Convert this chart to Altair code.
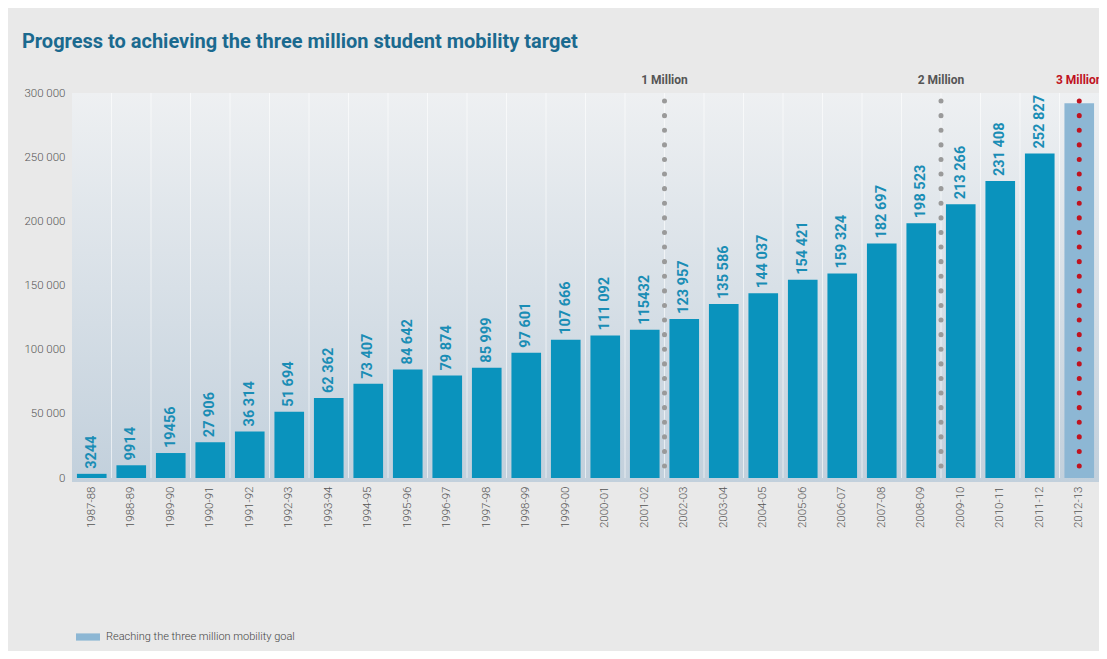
import altair as alt
import pandas as pd

# ---- data ----
seasons = ["1987-88", "1988-89", "1989-90", "1990-91", "1991-92", "1992-93", "1993-94",
           "1994-95", "1995-96", "1996-97", "1997-98", "1998-99", "1999-00", "2000-01",
           "2001-02", "2002-03", "2003-04", "2004-05", "2005-06", "2006-07", "2007-08",
           "2008-09", "2009-10", "2010-11", "2011-12", "2012-13"]
students = [3244, 9914, 19456, 27906, 36314, 51694, 62362, 73407, 84642, 79874, 85999,
            97601, 107666, 111092, 115432, 123957, 135586, 144037, 154421, 159324, 182697,
            198523, 213266, 231408, 252827, 292000]
value_labels = ["3244", "9914", "19456", "27 906", "36 314", "51 694", "62 362", "73 407",
                "84 642", "79 874", "85 999", "97 601", "107 666", "111 092", "115432",
                "123 957", "135 586", "144 037", "154 421", "159 324", "182 697", "198 523",
                "213 266", "231 408", "252 827", ""]
bar_types = ["Students"] * 25 + ["Reaching the three million mobility goal"]

milestone_names = ["1 Million", "2 Million", "3 Million"]
milestone_pos = [15, 22, 25.5]          # in category-step units (gap / bar centre)
milestone_kind = ["grey", "grey", "red"]

W, H = 1027, 385
N = len(seasons)

df = pd.DataFrame({"season": seasons, "students": students, "label": value_labels,
                   "type": bar_types})
ms = pd.DataFrame({"name": milestone_names, "pos": milestone_pos, "kind": milestone_kind})
gaps = pd.DataFrame({"pos": list(range(1, N))})

band = alt.Scale(paddingInner=0.25, paddingOuter=0.125)
yscale = alt.Scale(domain=[0, 300000], nice=False)
qx = alt.Scale(domain=[0, N], nice=False, zero=False)

bg = alt.Chart(pd.DataFrame({"a": [0]})).mark_rect(
    color=alt.Gradient(gradient="linear", x1=0, y1=0, x2=0, y2=1,
                       stops=[alt.GradientStop(color="#eef0f2", offset=0),
                              alt.GradientStop(color="#c2d0dc", offset=1)])
).encode(x=alt.value(0), x2=alt.value(W), y=alt.value(0), y2=alt.value(H + 4))

gridlines = alt.Chart(gaps).mark_rule(color="white", strokeWidth=1, opacity=0.6).encode(
    x=alt.X("pos:Q", scale=qx, axis=None), y=alt.value(0), y2=alt.value(H))

bars = alt.Chart(df).mark_bar().encode(
    x=alt.X("season:N", sort=seasons, scale=band, title=None,
            axis=alt.Axis(labelAngle=270, labelFontSize=11.5, labelColor="#555555",
                          labelFont="Roboto", labelFontWeight=300, ticks=False,
                          domain=False, grid=False, labelPadding=8)),
    y=alt.Y("students:Q", scale=yscale, title=None,
            axis=alt.Axis(values=[0, 50000, 100000, 150000, 200000, 250000, 300000],
                          labelExpr="replace(format(datum.value, ','), ',', ' ')",
                          labelFontSize=11.5, labelColor="#555555", labelFont="Roboto",
                          labelFontWeight=300, ticks=False, domain=False,
                          gridColor="white", gridOpacity=0.8, labelPadding=7)),
    color=alt.Color("type:N",
                    scale=alt.Scale(domain=["Students", "Reaching the three million mobility goal"],
                                    range=["#0a93bd", "#8db7d4"]),
                    legend=alt.Legend(values=["Reaching the three million mobility goal"],
                                      title=None, orient="none", legendX=4, legendY=532,
                                      padding=0, labelFont="Roboto", labelFontSize=11,
                                      labelColor="#444444", labelFontWeight=300,
                                      labelLimit=0,
                                      symbolType="M-1,-0.3H1V0.3H-1Z",
                                      symbolSize=576, symbolStrokeWidth=0,
                                      symbolOpacity=1, labelOffset=6)),
)

labels = alt.Chart(df).mark_text(angle=270, align="left", baseline="middle", dx=5,
                                 font="Roboto", fontSize=14.5, fontWeight="bold",
                                 color="#1a8db5").encode(
    x=alt.X("season:N", sort=seasons, scale=band, axis=None),
    y=alt.Y("students:Q", scale=yscale),
    text="label:N")

rules = alt.Chart(ms).mark_rule(strokeWidth=5, strokeDash=[0.1, 14.5], strokeCap="round").encode(
    x=alt.X("pos:Q", scale=qx, axis=None),
    y=alt.value(8), y2=alt.value(H + 2),
    color=alt.Color("kind:N", scale=alt.Scale(domain=["grey", "red"],
                                              range=["#9a9a9a", "#c0131f"]), legend=None))

ms_text = alt.Chart(ms).mark_text(font="Roboto", fontSize=12, fontWeight="bold",
                                  baseline="middle", align="center").encode(
    x=alt.X("pos:Q", scale=qx, axis=None),
    y=alt.value(-13),
    text="name:N",
    color=alt.Color("kind:N", scale=alt.Scale(domain=["grey", "red"],
                                              range=["#555555", "#c0131f"]), legend=None))

chart = alt.layer(bg, gridlines, bars, labels, rules, ms_text).resolve_scale(
    x="independent", color="independent"
).properties(
    width=W, height=H,
    title=alt.TitleParams("Progress to achieving the three million student mobility target",
                          anchor="start", dx=-2, offset=22, font="Roboto", fontSize=20,
                          fontWeight="bold", color="#1b6a8f"),
    autosize=alt.AutoSizeParams(type="none"),
    padding={"left": 64, "top": 85, "right": 0, "bottom": 173},
    background="#e9e9e9",
).configure_view(stroke=None)

chart.save("out.html", embed_options={"renderer": "svg", "actions": False})
